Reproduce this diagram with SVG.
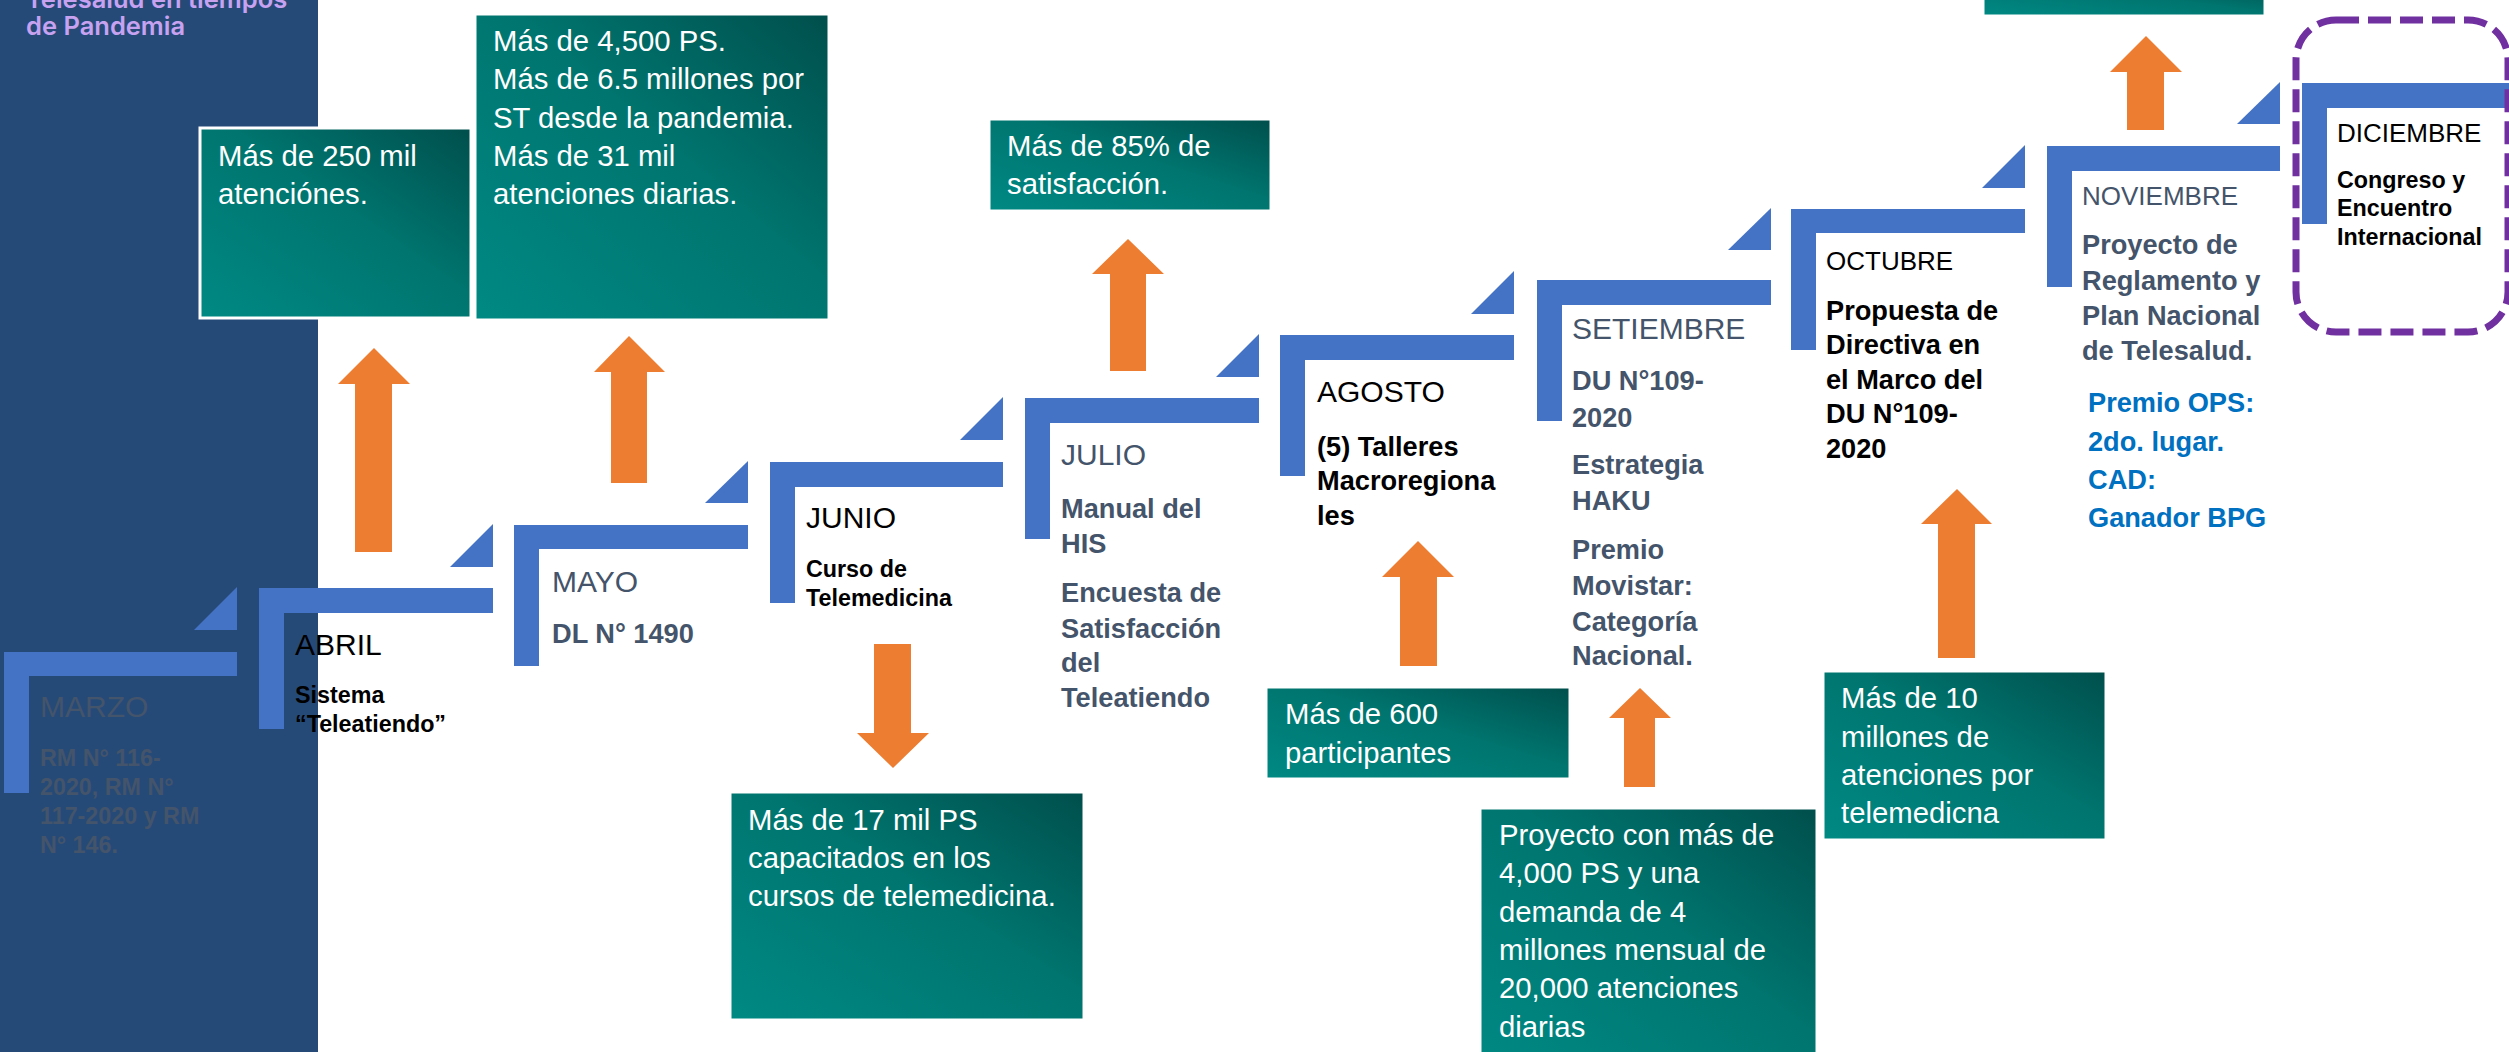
<svg xmlns="http://www.w3.org/2000/svg" width="2509" height="1052" viewBox="0 0 2509 1052">
<defs>
<linearGradient id="teal" x1="0" y1="1" x2="1" y2="0">
<stop offset="0" stop-color="#008984"/>
<stop offset="0.55" stop-color="#00756f"/>
<stop offset="1" stop-color="#004f4c"/>
</linearGradient>
<style>
.step{fill:#4472c4}
.arrow{fill:#ed7d31}
.box{fill:url(#teal);stroke:#ffffff;stroke-width:3}
text{font-family:"Liberation Sans",Arial,sans-serif}
.bt{fill:#ffffff;font-size:29.3px}
.m{font-size:30px}
.ms{font-size:26px}
.b{font-weight:bold;font-size:27.2px}
.bs{font-weight:bold;font-size:23.3px}
.g{fill:#44546a}
.k{fill:#000000}
.bl{fill:#0070c0}
.title{font-family:Inter,"Liberation Sans",sans-serif;font-weight:600;font-size:25.5px;fill:#c6a2f0}
</style>
</defs>
<rect width="2509" height="1052" fill="#ffffff"/>
<rect x="0" y="0" width="318" height="1052" fill="#264a78"/>
<g id="title">
<text class="title" x="26" y="8">Telesalud en tiempos</text>
<text class="title" x="26" y="35">de Pandemia</text>
</g>

<g id="marzo">
<path class="step" d="M4 652H237V676H29V793H4Z"/>
<polygon class="step" points="194,630 237,587 237,630"/>
<text class="m g" x="40" y="717">MARZO</text>
<text class="bs g" x="40" y="766">RM N° 116-</text>
<text class="bs g" x="40" y="795">2020,  RM N°</text>
<text class="bs g" x="40" y="824">117-2020 y RM</text>
<text class="bs g" x="40" y="853">N° 146.</text>
</g>

<g id="abril">
<path class="step" d="M259 588H493V613H284V729H259Z"/>
<polygon class="step" points="450,567 493,524 493,567"/>
<text class="m k" x="295" y="655">ABRIL</text>
<text class="bs k" x="295" y="703">Sistema</text>
<text class="bs k" x="295" y="732">“Teleatiendo”</text>
</g>

<g id="mayo">
<path class="step" d="M514 525H748V549H539V666H514Z"/>
<polygon class="step" points="705,503 748,461 748,503"/>
<text class="m g" x="552" y="592">MAYO</text>
<text class="b g" x="552" y="643">DL N° 1490</text>
</g>

<g id="junio">
<path class="step" d="M770 462H1003V487H795V603H770Z"/>
<polygon class="step" points="960,440 1003,397 1003,440"/>
<text class="m k" x="806" y="528">JUNIO</text>
<text class="bs k" x="806" y="577">Curso de</text>
<text class="bs k" x="806" y="606">Telemedicina</text>
</g>

<g id="julio">
<path class="step" d="M1025 398H1259V423H1050V539H1025Z"/>
<polygon class="step" points="1216,377 1259,334 1259,377"/>
<text class="m g" x="1061" y="465">JULIO</text>
<text class="b g" x="1061" y="518">Manual del</text>
<text class="b g" x="1061" y="553">HIS</text>
<text class="b g" x="1061" y="602">Encuesta de</text>
<text class="b g" x="1061" y="638">Satisfacción</text>
<text class="b g" x="1061" y="672">del</text>
<text class="b g" x="1061" y="707">Teleatiendo</text>
</g>

<g id="agosto">
<path class="step" d="M1280 335H1514V360H1305V476H1280Z"/>
<polygon class="step" points="1471,314 1514,271 1514,314"/>
<text class="m k" x="1317" y="402">AGOSTO</text>
<text class="b k" x="1317" y="456">(5) Talleres</text>
<text class="b k" x="1317" y="490">Macroregiona</text>
<text class="b k" x="1317" y="525">les</text>
</g>

<g id="setiembre">
<path class="step" d="M1537 280H1771V305H1562V421H1537Z"/>
<polygon class="step" points="1728,250 1771,208 1771,250"/>
<text class="m g" x="1572" y="339">SETIEMBRE</text>
<text class="b g" x="1572" y="390">DU N°109-</text>
<text class="b g" x="1572" y="427">2020</text>
<text class="b g" x="1572" y="474">Estrategia</text>
<text class="b g" x="1572" y="510">HAKU</text>
<text class="b g" x="1572" y="559">Premio</text>
<text class="b g" x="1572" y="595">Movistar:</text>
<text class="b g" x="1572" y="631">Categoría</text>
<text class="b g" x="1572" y="665">Nacional.</text>
</g>

<g id="octubre">
<path class="step" d="M1791 209H2025V233H1816V350H1791Z"/>
<polygon class="step" points="1982,188 2025,145 2025,188"/>
<text class="ms k" x="1826" y="270">OCTUBRE</text>
<text class="b k" x="1826" y="320">Propuesta de</text>
<text class="b k" x="1826" y="354">Directiva en</text>
<text class="b k" x="1826" y="389">el Marco del</text>
<text class="b k" x="1826" y="423">DU N°109-</text>
<text class="b k" x="1826" y="458">2020</text>
</g>

<g id="noviembre">
<path class="step" d="M2047 146H2280V171H2072V287H2047Z"/>
<polygon class="step" points="2237,124 2280,82 2280,124"/>
<text class="ms g" x="2082" y="205">NOVIEMBRE</text>
<text class="b g" x="2082" y="254">Proyecto de</text>
<text class="b g" x="2082" y="290">Reglamento y</text>
<text class="b g" x="2082" y="325">Plan Nacional</text>
<text class="b g" x="2082" y="360">de Telesalud.</text>
<text class="b bl" x="2088" y="412">Premio OPS:</text>
<text class="b bl" x="2088" y="451">2do. lugar.</text>
<text class="b bl" x="2088" y="489">CAD:</text>
<text class="b bl" x="2088" y="527">Ganador BPG</text>
</g>

<g id="diciembre">
<path class="step" d="M2302 83H2509V108H2327V224H2302Z"/>
<rect x="2296" y="20" width="212" height="312" rx="40" ry="40" fill="none" stroke="#7030a0" stroke-width="7" stroke-dasharray="23 9"/>
<text class="ms k" x="2337" y="142">DICIEMBRE</text>
<text class="bs k" x="2337" y="188">Congreso y</text>
<text class="bs k" x="2337" y="216">Encuentro</text>
<text class="bs k" x="2337" y="245">Internacional</text>
</g>

<g id="box-abril">
<rect class="box" x="200" y="128" width="271" height="190"/>
<text class="bt" x="218" y="166">Más de 250 mil</text>
<text class="bt" x="218" y="204">atenciónes.</text>
</g>

<g id="box-mayo">
<rect class="box" x="475" y="14" width="354" height="306"/>
<text class="bt" x="493" y="51">Más de 4,500 PS.</text>
<text class="bt" x="493" y="89">Más de 6.5 millones por</text>
<text class="bt" x="493" y="128">ST desde la pandemia.</text>
<text class="bt" x="493" y="166">Más de 31 mil</text>
<text class="bt" x="493" y="204">atenciones diarias.</text>
</g>

<g id="box-junio">
<rect class="box" x="730" y="792" width="354" height="228"/>
<text class="bt" x="748" y="830">Más de 17 mil PS</text>
<text class="bt" x="748" y="868">capacitados en los</text>
<text class="bt" x="748" y="906">cursos de telemedicina.</text>
</g>

<g id="box-julio">
<rect class="box" x="989" y="119" width="282" height="92"/>
<text class="bt" x="1007" y="156">Más de 85% de</text>
<text class="bt" x="1007" y="194">satisfacción.</text>
</g>

<g id="box-agosto">
<rect class="box" x="1266" y="687" width="304" height="92"/>
<text class="bt" x="1285" y="724">Más de 600</text>
<text class="bt" x="1285" y="763">participantes</text>
</g>

<g id="box-setiembre">
<rect class="box" x="1480" y="808" width="337" height="260"/>
<text class="bt" x="1499" y="845">Proyecto con más de</text>
<text class="bt" x="1499" y="883">4,000 PS y una</text>
<text class="bt" x="1499" y="922">demanda de 4</text>
<text class="bt" x="1499" y="960">millones mensual de</text>
<text class="bt" x="1499" y="998">20,000 atenciones</text>
<text class="bt" x="1499" y="1037">diarias</text>
</g>

<g id="box-octubre">
<rect class="box" x="1823" y="671" width="283" height="169"/>
<text class="bt" x="1841" y="708">Más de 10</text>
<text class="bt" x="1841" y="747">millones de</text>
<text class="bt" x="1841" y="785">atenciones por</text>
<text class="bt" x="1841" y="823">telemedicna</text>
</g>

<g id="box-noviembre">
<rect class="box" x="1983" y="-20" width="282" height="36"/>
</g>

<g id="connectors">
<polygon class="arrow" points="355,552 355,384 338,384 374,348 410,384 392,384 392,552"/>
<polygon class="arrow" points="611,483 611,372 594,372 629,336 665,372 647,372 647,483"/>
<polygon class="arrow" points="874,644 911,644 911,733 929,733 893,768 857,733 874,733"/>
<polygon class="arrow" points="1110,371 1110,274 1092,274 1128,239 1164,274 1146,274 1146,371"/>
<polygon class="arrow" points="1400,666 1400,577 1382,577 1418,541 1454,577 1437,577 1437,666"/>
<polygon class="arrow" points="1624,787 1624,718 1609,718 1640,688 1671,718 1655,718 1655,787"/>
<polygon class="arrow" points="1938,658 1938,524 1921,524 1957,489 1992,524 1975,524 1975,658"/>
<polygon class="arrow" points="2127,130 2127,72 2110,72 2146,36 2182,72 2164,72 2164,130"/>
</g>
</svg>
